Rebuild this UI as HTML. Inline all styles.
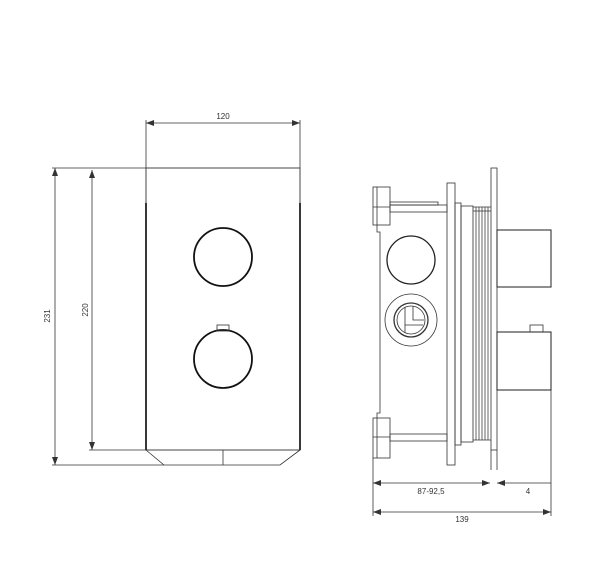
<!DOCTYPE html>
<html><head><meta charset="utf-8"><style>html,body{margin:0;padding:0;background:#fff}svg{display:block}</style></head><body>
<svg width="600" height="584" viewBox="0 0 600 584" xmlns="http://www.w3.org/2000/svg" font-family="Liberation Sans, sans-serif" font-size="8" fill="none" stroke="#333" stroke-width="0.8">
<defs><marker id="a" markerWidth="8" markerHeight="6" refX="8" refY="3" orient="auto-start-reverse" markerUnits="userSpaceOnUse"><path d="M0,0 L8,3 L0,6 z" fill="#333" stroke="none"/></marker></defs>
<!-- front view -->
<rect x="146" y="168" width="154" height="282" stroke="#444" stroke-width="1"/>
<line x1="146" y1="203" x2="146" y2="450" stroke="#222" stroke-width="1.8"/>
<line x1="300" y1="203" x2="300" y2="450" stroke="#222" stroke-width="1.8"/>
<path d="M146,450 L164,465 L280,465 L300,450"/>
<line x1="223" y1="450" x2="223" y2="465"/>
<circle cx="223" cy="257" r="29" stroke="#111" stroke-width="1.8"/>
<circle cx="223" cy="359" r="29" stroke="#111" stroke-width="1.8"/>
<rect x="217" y="325" width="12" height="6"/>
<!-- dims front -->
<line x1="146" y1="120" x2="146" y2="168"/><line x1="300" y1="120" x2="300" y2="168"/>
<line x1="146" y1="123" x2="300" y2="123" marker-start="url(#a)" marker-end="url(#a)"/>
<text x="223" y="119" text-anchor="middle" fill="#333" stroke="none">120</text>
<line x1="52" y1="168" x2="146" y2="168"/><line x1="89" y1="450" x2="146" y2="450"/><line x1="52" y1="465" x2="164" y2="465"/>
<line x1="55" y1="168" x2="55" y2="465" marker-start="url(#a)" marker-end="url(#a)"/>
<line x1="92" y1="170" x2="92" y2="450" marker-start="url(#a)" marker-end="url(#a)"/>
<text transform="translate(50,316) rotate(-90)" text-anchor="middle" fill="#333" stroke="none">231</text>
<text transform="translate(88,310) rotate(-90)" text-anchor="middle" fill="#333" stroke="none">220</text>
<!-- side view -->
<rect x="491" y="168" width="6" height="282"/>
<line x1="491" y1="450" x2="491" y2="470"/><line x1="497" y1="450" x2="497" y2="470"/>
<rect x="373" y="187" width="17" height="38"/><line x1="377" y1="187" x2="377" y2="225"/><line x1="373" y1="207" x2="390" y2="207"/>
<rect x="373" y="418" width="17" height="40"/><line x1="377" y1="418" x2="377" y2="458"/><line x1="373" y1="437" x2="390" y2="437"/>
<path d="M377,225 L377,232 L380,232 L380,413 L377,413 L377,418"/>
<rect x="390" y="202" width="48" height="3"/>
<rect x="390" y="205" width="57" height="7"/>
<rect x="390" y="434" width="57" height="7"/>
<rect x="447" y="183" width="8" height="282"/>
<rect x="455" y="203" width="6" height="242"/>
<rect x="461" y="206" width="12" height="236"/>
<g stroke="#555" stroke-width="0.9"><line x1="473" y1="207" x2="473" y2="440"/><line x1="476" y1="207" x2="476" y2="440"/><line x1="479" y1="207" x2="479" y2="440"/><line x1="482" y1="207" x2="482" y2="440"/><line x1="485" y1="207" x2="485" y2="440"/><line x1="488" y1="207" x2="488" y2="440"/></g>
<line x1="473" y1="207" x2="491" y2="207"/><line x1="473" y1="211" x2="491" y2="211"/><line x1="473" y1="440" x2="491" y2="440"/>
<circle cx="411" cy="260" r="24" stroke="#222" stroke-width="1.3"/>
<circle cx="411" cy="320" r="26"/><circle cx="411" cy="320" r="17" stroke-width="1.3"/><circle cx="411" cy="320" r="14"/>
<path d="M405,307 L405,333 M413,306 L413,320 L424,320 M405,325 L423,325"/>
<rect x="497" y="230" width="54" height="57" stroke-width="1.1"/>
<rect x="497" y="332" width="54" height="58" stroke-width="1.1"/>
<rect x="530" y="325" width="13" height="7"/>
<!-- side dims -->
<line x1="373" y1="458" x2="373" y2="516"/><line x1="551" y1="390" x2="551" y2="516"/>
<line x1="373" y1="483" x2="490" y2="483" marker-start="url(#a)" marker-end="url(#a)"/>
<line x1="497" y1="483" x2="551" y2="483" marker-start="url(#a)"/>
<text x="431" y="494" text-anchor="middle" fill="#333" stroke="none">87-92,5</text>
<text x="528" y="494" text-anchor="middle" fill="#333" stroke="none">4</text>
<line x1="373" y1="512" x2="551" y2="512" marker-start="url(#a)" marker-end="url(#a)"/>
<text x="462" y="522" text-anchor="middle" fill="#333" stroke="none">139</text>
</svg>
</body></html>
